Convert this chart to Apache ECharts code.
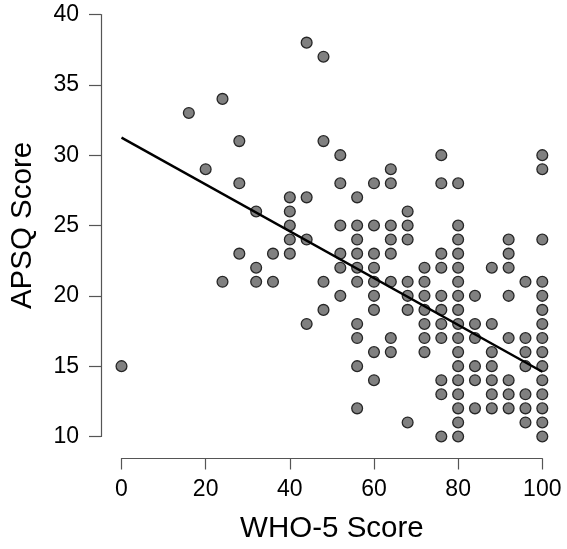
<!DOCTYPE html>
<html>
<head>
<meta charset="utf-8">
<script src="https://cdn.jsdelivr.net/npm/echarts@6/dist/echarts.min.js"></script>
<style>html,body{margin:0;padding:0;background:#fff}#c{width:567px;height:549px}</style>
</head>
<body>
<div id="c"></div>
<script>
// WHO-5 score levels and the APSQ scores observed at each level
const who5Levels = [0, 16, 20, 24, 28, 32, 36, 40, 44, 48, 52, 56, 60, 64, 68, 72, 76, 80, 84, 88, 92, 96, 100];
const apsqAtLevel = [
  [15],
  [33],
  [29],
  [34, 21],
  [31, 28, 23],
  [26, 22, 21],
  [23, 21],
  [27, 26, 25, 24, 23],
  [38, 27, 24, 18],
  [37, 31, 21, 19],
  [30, 28, 25, 23, 22, 20],
  [27, 25, 24, 23, 22, 21, 18, 17, 15, 12],
  [28, 25, 23, 22, 21, 20, 19, 16, 14],
  [29, 28, 25, 24, 23, 21, 17, 16],
  [26, 25, 24, 21, 20, 19, 11],
  [22, 21, 20, 19, 18, 17, 16],
  [30, 28, 23, 22, 20, 19, 18, 17, 14, 13, 10],
  [28, 25, 24, 23, 22, 21, 20, 19, 18, 17, 16, 15, 14, 13, 12, 11, 10],
  [20, 18, 17, 15, 14, 12],
  [22, 18, 16, 15, 14, 13, 12],
  [24, 23, 22, 20, 17, 14, 13, 12],
  [21, 17, 16, 15, 13, 12, 11],
  [30, 29, 24, 21, 20, 19, 18, 17, 16, 15, 14, 13, 12, 11, 10]
];
// fitted regression line end points
const fitX = [0, 100];
const fitY = [31.25, 14.6];
const xTicks = [0, 20, 40, 60, 80, 100];
const yTicks = [10, 15, 20, 25, 30, 35, 40];

const points = [];
who5Levels.forEach((x, i) => apsqAtLevel[i].forEach(y => points.push([x, y])));
const fitLine = fitX.map((x, i) => [x, fitY[i]]);

const FONT = '"Liberation Sans", Arial, Helvetica, sans-serif';
const AXIS_COLOR = '#555';
const chart = echarts.init(document.getElementById('c'), null, {renderer: 'canvas'});
chart.setOption({
  animation: false,
  backgroundColor: '#ffffff',
  grid: {left: 115.5, right: 24.7, top: 14.5, bottom: 112.5, containLabel: false},
  xAxis: {
    type: 'value',
    min: xTicks[0], max: xTicks[xTicks.length - 1], interval: 20,
    offset: 22,
    name: 'WHO-5 Score',
    nameLocation: 'middle',
    nameGap: 55,
    nameTextStyle: {fontFamily: FONT, fontSize: 29.5, color: '#000'},
    axisLine: {show: true, onZero: false, lineStyle: {color: AXIS_COLOR, width: 1.2}},
    axisTick: {show: true, inside: false, length: 11, lineStyle: {color: AXIS_COLOR, width: 1.2}},
    axisLabel: {fontFamily: FONT, fontSize: 23, color: '#000', margin: 20},
    splitLine: {show: false}
  },
  yAxis: {
    type: 'value',
    min: yTicks[0], max: yTicks[yTicks.length - 1], interval: 5,
    offset: 20.5,
    name: 'APSQ Score',
    nameLocation: 'middle',
    nameGap: 63,
    nameRotate: 90,
    nameTextStyle: {fontFamily: FONT, fontSize: 29.5, color: '#000'},
    axisLine: {show: true, onZero: false, lineStyle: {color: AXIS_COLOR, width: 1.2}},
    axisTick: {show: true, inside: false, length: 12, lineStyle: {color: AXIS_COLOR, width: 1.2}},
    axisLabel: {fontFamily: FONT, fontSize: 23, color: '#000', margin: 22},
    splitLine: {show: false}
  },
  series: [
    {
      type: 'scatter',
      data: points,
      symbol: 'circle',
      symbolSize: 10.8,
      itemStyle: {color: '#808080', borderColor: '#262626', borderWidth: 1.3, opacity: 1},
      z: 3
    },
    {
      type: 'line',
      data: fitLine,
      symbol: 'none',
      lineStyle: {color: '#000', width: 2.4},
      z: 4
    }
  ]
});
</script>
</body>
</html>
